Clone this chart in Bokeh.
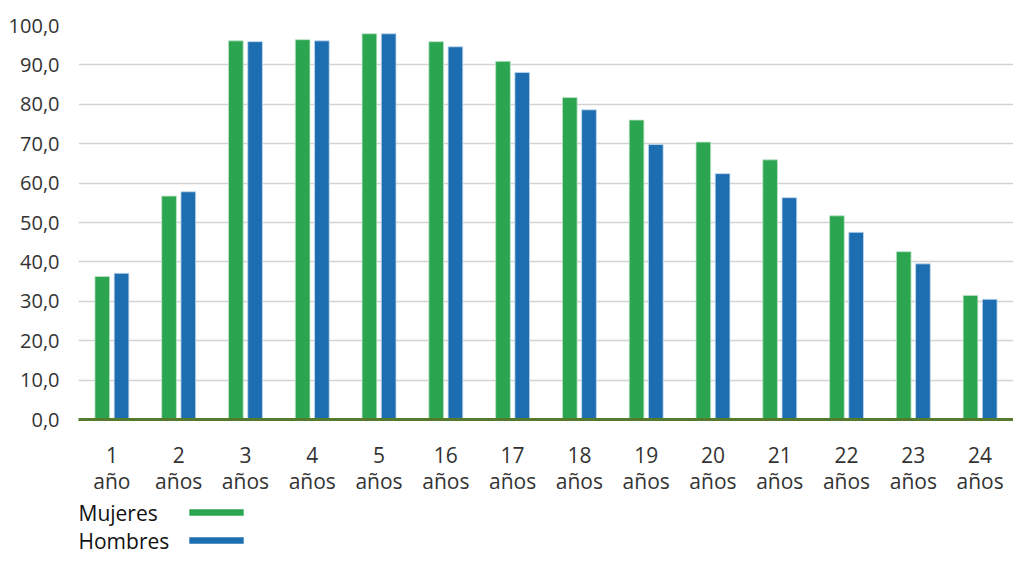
from bokeh.plotting import figure
from bokeh.layouts import column
from bokeh.models import ColumnDataSource, FactorRange, Range1d, Legend, LegendItem, Label
from bokeh.transform import dodge
from bokeh.embed import file_html
from bokeh.resources import INLINE

categories = ["1\naño", "2\naños", "3\naños", "4\naños", "5\naños", "16\naños", "17\naños",
              "18\naños", "19\naños", "20\naños", "21\naños", "22\naños", "23\naños", "24\naños"]
mujeres = [36.3, 56.7, 96.1, 96.4, 97.9, 95.9, 90.9, 81.7, 76.0, 70.4, 65.9, 51.7, 42.6, 31.5]
hombres = [37.1, 57.8, 95.9, 96.1, 97.9, 94.6, 88.1, 78.6, 69.8, 62.4, 56.3, 47.5, 39.5, 30.5]
series_names = ["Mujeres", "Hombres"]
y_ticks = [0, 10, 20, 30, 40, 50, 60, 70, 80, 90, 100]
y_tick_labels = ["0,0", "10,0", "20,0", "30,0", "40,0", "50,0", "60,0", "70,0", "80,0", "90,0", "100,0"]

GREEN = "#2ca551"
BLUE = "#1d6eb1"
FONT = "Open Sans"
W = 1013

src = ColumnDataSource(dict(cat=categories, m=mujeres, h=hombres))

p = figure(width=W, height=498, output_backend="svg", toolbar_location=None,
           x_range=FactorRange(*categories, range_padding=0),
           y_range=Range1d(0, 100),
           min_border_left=78, min_border_right=0, min_border_top=25, min_border_bottom=79)
p.outline_line_color = None

rm = p.vbar(x=dodge("cat", -0.144, range=p.x_range), top="m", width=0.22, source=src,
            fill_color=GREEN, line_color="#bfe3c8", line_width=0.8)
rh = p.vbar(x=dodge("cat", 0.144, range=p.x_range), top="h", width=0.22, source=src,
            fill_color=BLUE, line_color="#c3d8ec", line_width=0.8)

# y axis
p.yaxis.ticker = y_ticks
p.yaxis.major_label_overrides = dict(zip(y_ticks, y_tick_labels))
p.yaxis.axis_line_color = None
p.yaxis.major_tick_line_color = None
p.yaxis.minor_tick_line_color = None
p.yaxis.major_label_text_font = FONT
p.yaxis.major_label_text_font_size = "20px"
p.yaxis.major_label_text_color = "#333333"
p.yaxis.major_label_standoff = 13

# x axis
p.xaxis.axis_line_color = "#567a2c"
p.xaxis.axis_line_width = 3
p.xaxis.major_tick_line_color = None
p.xaxis.minor_tick_line_color = None
p.xaxis.major_label_text_font = FONT
p.xaxis.major_label_text_font_size = "21px"
p.xaxis.major_label_text_color = "#333333"
p.xaxis.major_label_standoff = 15
p.xaxis.major_label_text_line_height = 0.96

p.xgrid.grid_line_color = None
p.ygrid.grid_line_color = "#d3d3d3"
p.ygrid.grid_line_width = 1.6

# legend strip: names on the left, colour swatches on the right
LH = 58
lf = figure(width=W, height=LH, output_backend="svg", toolbar_location=None,
            x_range=Range1d(0, 935), y_range=Range1d(-LH, 0),
            min_border_left=0, min_border_right=0, min_border_top=0, min_border_bottom=0)
lf.axis.visible = False
lf.grid.grid_line_color = None
lf.outline_line_color = None

# swatch sources (bars fall outside this strip's range, only the legend shows them)
lm = lf.vbar(x="m", top="m", width=1, source=src, fill_color=GREEN, line_color=None)
lh = lf.vbar(x="h", top="h", width=1, source=src, fill_color=BLUE, line_color=None)

legend = Legend(items=[LegendItem(label=" ", renderers=[lm]),
                       LegendItem(label=" ", renderers=[lh])],
                location=(104, 12), glyph_width=68, glyph_height=8,
                label_height=8, label_width=1, spacing=20, padding=0, margin=0,
                label_text_font_size="1px", label_standoff=0,
                border_line_color=None, background_fill_alpha=0)
lf.add_layout(legend, "center")

for name, yy in zip(series_names, [-14, -42]):
    lf.add_layout(Label(x=0, y=yy, text=name,
                        text_font=FONT, text_font_size="21px", text_color="#111111",
                        text_baseline="middle"))

layout = column(p, lf, spacing=0)
open("out.html", "w").write(file_html(layout, INLINE))
